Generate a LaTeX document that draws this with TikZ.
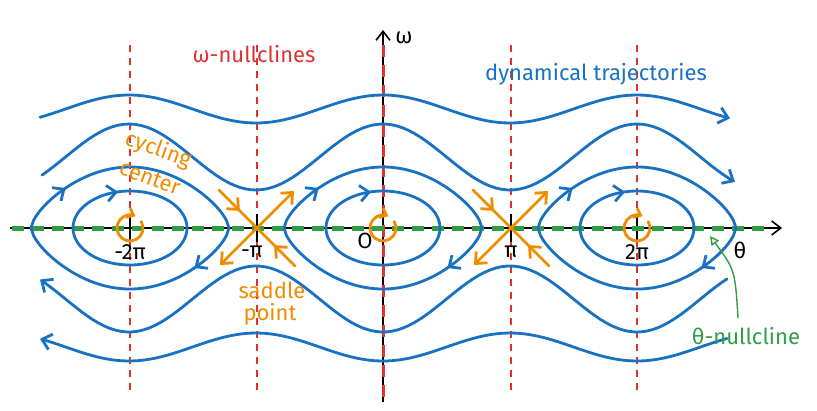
\documentclass[tikz,border=0pt]{standalone}
\usepackage{fontspec}
\setmainfont{Fira Sans}
\usetikzlibrary{arrows.meta,decorations.markings}
\definecolor{eblue}{HTML}{1971C2}
\definecolor{ered}{HTML}{E03131}
\definecolor{eorange}{HTML}{F08C00}
\definecolor{egreen}{HTML}{2F9E44}
\tikzset{barb/.tip={Straight Barb[length=9pt,width=16pt]}}
\begin{document}
\begin{tikzpicture}[x=1pt,y=-1pt,
  traj/.style={eblue,line width=2.8pt,line cap=round,line join=round},
  midarrow/.style={postaction={decorate,decoration={markings,mark=at position #1 with {\arrow{barb}}}}},
  null/.style={ered,line width=1.4pt,dash pattern=on 7pt off 6pt},
  orng/.style={eorange,line width=2.8pt,line cap=round},
  lbl/.style={font=\fontsize{22}{22}\selectfont,inner sep=1pt}]
\useasboundingbox (0,0) rectangle (817,410);
% omega-nullclines
\foreach \x in {130,257,511,637} \draw[null] (\x,45) -- (\x,392);
% axes
\coordinate (xa) at (10,228); \coordinate (xb) at (782,228);
\coordinate (ya) at (383,402); \coordinate (yb) at (383,30);
\draw[black,line width=1.6pt,-{Straight Barb[length=9pt,width=14pt]}] (xa) -- (xb);
\draw[black,line width=1.6pt,-{Straight Barb[length=9pt,width=14pt]}] (ya) -- (yb);
\draw[ered,line width=3pt,dash pattern=on 12pt off 8pt] (383,45) -- (383,400);
\foreach \x in {130,257,511,637} \draw[black,line width=1.6pt] (\x,214) -- (\x,242);
% theta-nullcline
\draw[egreen,line width=5pt,dash pattern=on 12pt off 8pt] (12,228) -- (770,228);
% rotating trajectories
\draw[traj,-{barb}] plot[domain=40:730,samples=120] (\x,{109-14*cos(1.4173*(\x-383))});
\draw[traj,-{barb}] plot[domain=42:735,samples=120] (\x,{157-33*cos(1.4173*(\x-383))});
\draw[traj,{barb}-] plot[domain=40:727,samples=120] (\x,{299+33*cos(1.4173*(\x-383))});
\draw[traj,{barb}-] plot[domain=40:727,samples=120] (\x,{347+14*cos(1.4173*(\x-383))});
% closed orbits
\foreach \c in {130,383,637}{
  \draw[traj,midarrow=0.22] plot[domain=-99:99,samples=80] ({\c+\x},{228-61*(cos(90*\x/99))^0.65});
  \draw[traj,midarrow=0.22] plot[domain=99:-99,samples=80] ({\c+\x},{228+61*(cos(90*\x/99))^0.65});
  \draw[traj,midarrow=0.42] plot[domain=180:0,samples=60] ({\c+57*cos(\x)},{228-37*sin(\x)});
  \draw[traj] plot[domain=0:-180,samples=60] ({\c+57*cos(\x)},{228-37*sin(\x)});
  \draw[orng,-{Straight Barb[length=6pt,width=10pt]}] ({\c+13*cos(-30)},{228+13*sin(-30)}) arc[start angle=-30,end angle=295,radius=13];
}
% saddles
\foreach \s in {257,511}{
  \coordinate (S) at (\s,228);
  \draw[orng,midarrow=0.55] (\s-38,190) -- (S);
  \draw[orng,midarrow=0.55] (\s+38,266) -- (S);
  \draw[orng,-{barb}] (S) -- (\s+37,191);
  \draw[orng,-{barb}] (S) -- (\s-37,265);
}
% labels
\node[lbl] (l1) at (130,252) {-2π};
\node[lbl] (l2) at (252,252) {-π};
\node[lbl] (l3) at (365,241) {O};
\node[lbl] (l4) at (511,252) {π};
\node[lbl] (l5) at (637,252) {2π};
\node[lbl] (th) at (740,250) {θ};
\node[lbl] (om) at (404,38) {ω};
\node[lbl,ered] (wn) at (254,54) {ω-nullclines};
\node[lbl,eblue] (dt) at (596,74) {dynamical trajectories};
\node[lbl,eorange,rotate=-20] (cc1) at (158,150) {cycling};
\node[lbl,eorange,rotate=-20] (cc2) at (150,178) {center};
\node[lbl,eorange] (sp1) at (272,290) {saddle};
\node[lbl,eorange] (sp2) at (270,314) {point};
\node[lbl,egreen] (tn) at (746,336) {θ-nullcline};
\coordinate (tt) at (710,236);
\draw[egreen,line width=1.4pt,-{Triangle[open,length=9pt,width=9pt]}] (738,318) .. controls (735,270) .. (tt);
\end{tikzpicture}
\end{document}
